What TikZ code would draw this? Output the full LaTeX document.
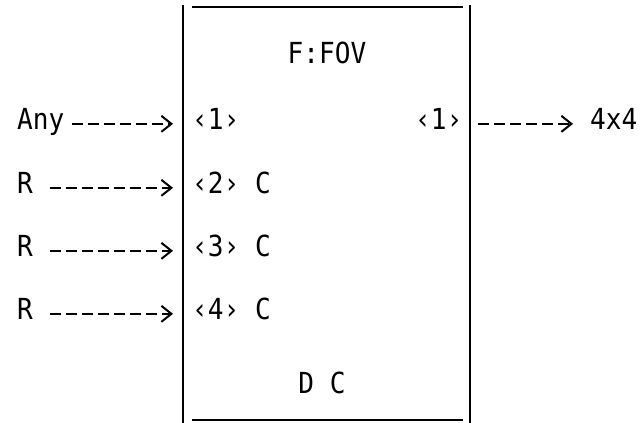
\documentclass[tikz,border=0pt]{standalone}
\usepackage{fontspec}
\setmonofont[FakeStretch=0.9]{DejaVu Sans Mono}
\usetikzlibrary{arrows.meta}
\begin{document}
\begin{tikzpicture}[x=1pt,y=-1pt,
  lbl/.style={font=\ttfamily\fontsize{29}{34}\selectfont, inner sep=0pt, anchor=base west},
  ctr/.style={font=\ttfamily\fontsize{29}{34}\selectfont, inner sep=0pt, anchor=base},
  conn/.style={line width=2pt, dash pattern=on 11pt off 5pt,
    -{Straight Barb[length=10pt,width=16pt,line width=2pt]}},
  boxline/.style={line width=2pt}]
\useasboundingbox (0,0) rectangle (643,423);
% box
\coordinate (bl) at (183,0);
\coordinate (br) at (470,0);
\draw[boxline] (183,5) -- (183,423);
\draw[boxline] (470,5) -- (470,423);
\draw[boxline] (192,7) -- (463,7);
\draw[boxline] (192,420) -- (463,420);
\node[ctr] (title) at (327,63) {F:FOV};
\node[ctr] (foot) at (322,393) {D C};
% left labels
\node[lbl] (any) at (17,129) {Any};
\node[lbl] (r2) at (17,193) {R};
\node[lbl] (r3) at (17,256) {R};
\node[lbl] (r4) at (17,319) {R};
% ports
\node[lbl] (i1) at (192,129) {‹1›};
\node[lbl] (i2) at (192,193) {‹2› C};
\node[lbl] (i3) at (192,256) {‹3› C};
\node[lbl] (i4) at (192,319) {‹4› C};
\node[lbl] (o1) at (415,129) {‹1›};
\node[lbl] (out) at (590,129) {4x4};
% connectors
\draw[conn, shorten <=7pt, shorten >=10pt] ([yshift=3pt]any.mid east) -- ([yshift=3pt]any.mid east -| bl);
\draw[conn, shorten <=17pt, shorten >=10pt] ([yshift=3pt]r2.mid east) -- ([yshift=3pt]r2.mid east -| bl);
\draw[conn, shorten <=17pt, shorten >=10pt] ([yshift=3pt]r3.mid east) -- ([yshift=3pt]r3.mid east -| bl);
\draw[conn, shorten <=17pt, shorten >=10pt] ([yshift=3pt]r4.mid east) -- ([yshift=3pt]r4.mid east -| bl);
\draw[conn, shorten <=8pt, shorten >=17pt] ([yshift=3pt]out.mid west -| br) -- ([yshift=3pt]out.mid west);
\end{tikzpicture}
\end{document}
